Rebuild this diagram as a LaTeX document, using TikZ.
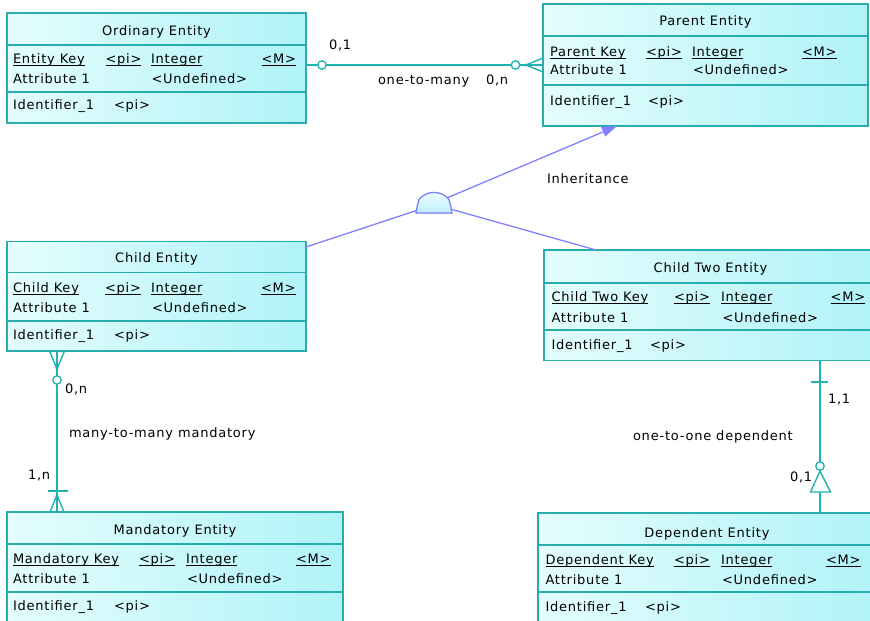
\documentclass[tikz,border=0pt]{standalone}
\usepackage{fontspec}
\setmainfont{DejaVu Sans}[LetterSpace=6]
\usetikzlibrary{fit,arrows.meta,calc}
\definecolor{entborder}{RGB}{40,172,172}
\definecolor{relcol}{RGB}{30,178,178}
\definecolor{fillA}{RGB}{228,253,253}
\definecolor{fillB}{RGB}{176,243,248}
\definecolor{inh}{RGB}{128,128,255}
\definecolor{domeA}{RGB}{235,252,255}
\definecolor{domeB}{RGB}{190,240,252}
\newcommand{\ulx}[1]{\setbox0\hbox{#1}\rlap{\rule[-2.6pt]{\wd0}{0.9pt}}\box0}
\newcommand{\erbox}[7]{%
  \node[entbox, fit={(#2,#3) (#4,#5)}] (#1) {};
  \draw[entdiv] (#2,#6) -- (#4,#6) (#2,#7) -- (#4,#7);
}
\newcommand{\tx}[4]{\node[txt, anchor=base west] (#1) at (#2,#3) {#4};}
\newcommand{\ttl}[4]{\node[txt, anchor=base] (#1) at (#2,#3) {#4};}
\begin{document}
\begin{tikzpicture}[x=1pt,y=-1pt,
  entbox/.style={draw=entborder, line width=1.4pt, inner sep=0pt, outer sep=0pt, left color=fillA, right color=fillB},
  entdiv/.style={draw=entborder, line width=1.3pt},
  txt/.style={inner sep=0pt, outer sep=0pt, font=\fontsize{13}{15}\selectfont, text=black},
  rel/.style={draw=relcol, line width=1.4pt},
  relcirc/.style={circle, draw=relcol, line width=1.3pt, fill=white, minimum size=8.5pt, inner sep=0pt},
  inhline/.style={draw=inh, line width=1.3pt}]
\useasboundingbox (0,0) rectangle (870,621);

% ---------- entities ----------
\erbox{ord}{7}{13}{306}{123}{45}{92}
\erbox{par}{543}{4}{868}{126}{36}{85}
\erbox{chi}{7}{241.5}{306}{351}{272.5}{321}
\erbox{ct}{544}{250}{877}{360.5}{283}{330}
\erbox{man}{7}{512}{343}{640}{544}{592}
\erbox{dep}{538}{513}{876}{640}{545}{592}

% Ordinary Entity
\ttl{ordT}{156.5}{35}{Ordinary Entity}
\tx{ordK}{13}{63.5}{\ulx{Entity Key}}
\tx{ordP}{105.5}{63.5}{\ulx{<pi>}}
\tx{ordI}{151}{63.5}{\ulx{Integer}}
\tx{ordM}{261.5}{63.5}{\ulx{<M>}}
\tx{ordA}{13}{83}{Attribute 1}
\tx{ordU}{151.5}{83}{<Undefined>}
\tx{ordId}{13}{109}{Identifier\_1}
\tx{ordIp}{114}{109}{<pi>}

% Parent Entity
\ttl{parT}{705.5}{25}{Parent Entity}
\tx{parK}{550}{56}{\ulx{Parent Key}}
\tx{parP}{646}{56}{\ulx{<pi>}}
\tx{parI}{692}{56}{\ulx{Integer}}
\tx{parM}{802}{56}{\ulx{<M>}}
\tx{parA}{550}{74}{Attribute 1}
\tx{parU}{693}{74}{<Undefined>}
\tx{parId}{550}{105}{Identifier\_1}
\tx{parIp}{648}{105}{<pi>}

% Child Entity
\ttl{chiT}{156.5}{262.7}{Child Entity}
\tx{chiK}{13}{292}{\ulx{Child Key}}
\tx{chiP}{105}{292}{\ulx{<pi>}}
\tx{chiI}{151}{292}{\ulx{Integer}}
\tx{chiM}{261}{292}{\ulx{<M>}}
\tx{chiA}{13}{312}{Attribute 1}
\tx{chiU}{152}{312}{<Undefined>}
\tx{chiId}{13}{339}{Identifier\_1}
\tx{chiIp}{114}{339}{<pi>}

% Child Two Entity
\ttl{ctT}{710.5}{272}{Child Two Entity}
\tx{ctK}{551.5}{301.7}{\ulx{Child Two Key}}
\tx{ctP}{674}{301.7}{\ulx{<pi>}}
\tx{ctI}{721}{301.7}{\ulx{Integer}}
\tx{ctM}{830.7}{301.7}{\ulx{<M>}}
\tx{ctA}{551.5}{322}{Attribute 1}
\tx{ctU}{722.5}{322}{<Undefined>}
\tx{ctId}{551.5}{349}{Identifier\_1}
\tx{ctIp}{650}{349}{<pi>}

% Mandatory Entity
\ttl{manT}{175}{534}{Mandatory Entity}
\tx{manK}{13}{563}{\ulx{Mandatory Key}}
\tx{manP}{139}{563}{\ulx{<pi>}}
\tx{manI}{186}{563}{\ulx{Integer}}
\tx{manM}{296}{563}{\ulx{<M>}}
\tx{manA}{13}{583}{Attribute 1}
\tx{manU}{187}{583}{<Undefined>}
\tx{manId}{13}{610}{Identifier\_1}
\tx{manIp}{114}{610}{<pi>}

% Dependent Entity
\ttl{depT}{707}{537}{Dependent Entity}
\tx{depK}{545.5}{564}{\ulx{Dependent Key}}
\tx{depP}{674}{564}{\ulx{<pi>}}
\tx{depI}{721}{564}{\ulx{Integer}}
\tx{depM}{826}{564}{\ulx{<M>}}
\tx{depA}{545.5}{584}{Attribute 1}
\tx{depU}{722}{584}{<Undefined>}
\tx{depId}{545.5}{611}{Identifier\_1}
\tx{depIp}{645}{611}{<pi>}

% ---------- one-to-many ----------
\coordinate (r1a) at (ord.east |- par.west);
\coordinate (r1b) at (par.west);
\draw[rel] (r1a) -- (r1b);
\draw[rel] ($(r1b)+(-17,0)$) -- ($(r1b)+(0,-7)$) ($(r1b)+(-17,0)$) -- ($(r1b)+(0,7)$);
\fill[relcol] ($(r1b)+(-17,0)$) circle (1.7);
\node[relcirc] (r1c1) at ($(r1a)+(16,0)$) {};
\node[relcirc] (r1c2) at ($(r1b)+(-27.5,0)$) {};
\tx{l01}{329}{49}{0,1}
\tx{lotm}{378}{84}{one-to-many}
\tx{l0n}{486}{84}{0,n}

% ---------- many-to-many mandatory ----------
\coordinate (r2a) at ([xshift=50pt]chi.south west);
\coordinate (r2b) at ([xshift=50pt]man.north west);
\draw[rel] (r2a) -- (r2b);
\draw[rel] ($(r2a)+(0,18)$) -- ($(r2a)+(-7.5,0)$) ($(r2a)+(0,18)$) -- ($(r2a)+(7.5,0)$);
\fill[relcol] ($(r2a)+(0,18)$) circle (1.7);
\node[relcirc] (r2c) at ($(r2a)+(0,29)$) {};
\draw[rel] ($(r2b)+(-9.5,-21)$) -- ($(r2b)+(10.5,-21)$);
\draw[rel] ($(r2b)+(0,-17)$) -- ($(r2b)+(-7,0)$) ($(r2b)+(0,-17)$) -- ($(r2b)+(7,0)$);
\fill[relcol] ($(r2b)+(0,-17)$) circle (1.7);
\tx{l0n2}{65}{393}{0,n}
\tx{lmtm}{69}{437}{many-to-many mandatory}
\tx{l1n}{28}{479}{1,n}

% ---------- one-to-one dependent ----------
\coordinate (r3a) at ([xshift=276pt]ct.south west);
\coordinate (r3b) at ([xshift=282pt]dep.north west);
\draw[rel] (r3a) -- (r3b);
\draw[rel] ($(r3a)+(-9,21.5)$) -- ($(r3a)+(8,21.5)$);
\filldraw[rel, fill=white] ($(r3b)+(0,-42)$) -- ($(r3b)+(10.5,-21)$) -- ($(r3b)+(-9.5,-21)$) -- cycle;
\node[relcirc] (r3c) at ($(r3b)+(0,-47)$) {};
\tx{l11}{828}{403}{1,1}
\tx{lotod}{633}{440}{one-to-one dependent}
\tx{l012}{790}{481}{0,1}

% ---------- inheritance ----------
\coordinate (inhl) at (416.5,210.5);
\coordinate (inhu) at (448,197.5);
\coordinate (inhr) at (452,209.5);
\draw[inhline] ([yshift=-5.5pt]chi.north east) -- (inhl);
\draw[inhline, -{Triangle[length=15pt,width=10pt]}] (inhu) -- ([xshift=74pt]par.south west);
\draw[inhline] (inhr) -- ([xshift=52pt]ct.north west);
\filldraw[inhline, top color=domeA, bottom color=domeB] (416,213) -- (417.5,205)
  arc[start angle=180, end angle=360, x radius=16.5, y radius=12.5] -- (452,213) -- cycle;
\tx{linh}{547}{183}{Inheritance}
\end{tikzpicture}
\end{document}
